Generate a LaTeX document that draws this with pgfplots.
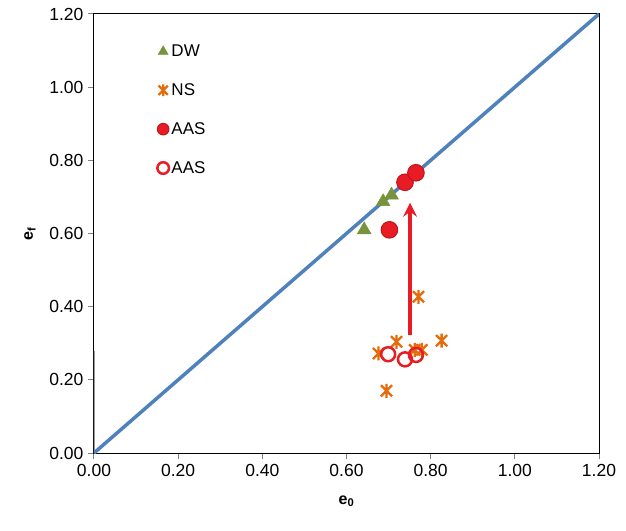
\documentclass[border=0pt]{standalone}
\usepackage{fontspec}
\setmainfont{Liberation Sans}
\usepackage{pgfplots}
\pgfplotsset{compat=1.18}
\usetikzlibrary{arrows.meta}
\definecolor{dwgreen}{RGB}{119,147,60}
\definecolor{nsorange}{RGB}{228,108,10}
\definecolor{aasred}{RGB}{232,28,36}
\definecolor{aasdark}{RGB}{190,20,30}
\definecolor{lineblue}{RGB}{79,129,189}
\pgfdeclareplotmark{xstar}{%
  \pgfpathmoveto{\pgfqpoint{-0.8\pgfplotmarksize}{-0.8\pgfplotmarksize}}%
  \pgfpathlineto{\pgfqpoint{0.8\pgfplotmarksize}{0.8\pgfplotmarksize}}%
  \pgfpathmoveto{\pgfqpoint{-0.8\pgfplotmarksize}{0.8\pgfplotmarksize}}%
  \pgfpathlineto{\pgfqpoint{0.8\pgfplotmarksize}{-0.8\pgfplotmarksize}}%
  \pgfpathmoveto{\pgfqpoint{0pt}{-\pgfplotmarksize}}%
  \pgfpathlineto{\pgfqpoint{0pt}{\pgfplotmarksize}}%
  \pgfusepathqstroke}
\begin{document}
\begin{tikzpicture}
\begin{axis}[
  scale only axis,
  width=505pt, height=439pt,
  xmin=0, xmax=1.2, ymin=0, ymax=1.2,
  xtick={0,0.2,...,1.2}, ytick={0,0.2,...,1.2},
  axis line style={black, line width=1pt},
  tick align=outside,
  xtick pos=bottom, ytick pos=left,
  major tick length=6pt,
  tick style={gray, line width=1pt},
  /pgf/number format/assume math mode=true,
  xticklabel style={/pgf/number format/.cd, fixed, fixed zerofill, precision=2, /tikz/.cd, font=\fontsize{17.5}{20}\selectfont, yshift=-2pt},
  yticklabel style={/pgf/number format/.cd, fixed, fixed zerofill, precision=2, /tikz/.cd, font=\fontsize{17.5}{20}\selectfont, xshift=-1pt},
  xlabel={\textbf{e\textsubscript{0}}},
  ylabel={\textbf{e\textsubscript{f}}},
  xlabel style={font=\fontsize{16}{19}\selectfont, yshift=-12pt},
  ylabel style={font=\fontsize{16}{19}\selectfont, yshift=7pt},
  legend style={at={(axis cs:0.143,1.127)}, anchor=north west, draw=none, fill=none,
    font=\fontsize{17}{20}\selectfont, row sep=21.5pt,
    nodes={inner xsep=2.5pt}},
  legend cell align=left,
  legend image code/.code={\draw[#1, mark size=5.8pt] plot coordinates {(0.1cm,0cm)};},
]
\addplot[only marks, mark=triangle*, mark size=8pt, color=dwgreen, mark options={fill=dwgreen, draw=dwgreen}]
  coordinates {(0.642,0.610) (0.687,0.687) (0.707,0.705)};
\addlegendentry{DW}
\addplot[only marks, mark=xstar, mark size=7pt, color=nsorange, mark options={line width=2.3pt}]
  coordinates {(0.771,0.427) (0.826,0.307) (0.719,0.304) (0.676,0.272) (0.779,0.282) (0.695,0.170) (0.762,0.282)};
\addlegendentry{NS}
\addplot[only marks, mark=*, mark size=8.3pt, mark options={fill=aasred, draw=aasdark, line width=1pt}]
  coordinates {(0.702,0.610) (0.739,0.740) (0.765,0.766)};
\addlegendentry{AAS}
\addplot[only marks, mark=o, mark size=7pt, mark options={draw=aasred, line width=2.5pt}]
  coordinates {(0.699,0.270) (0.739,0.256) (0.765,0.268)};
\addlegendentry{AAS}
\addplot[forget plot, aasred, line width=3.2pt, -{Stealth[length=14pt,width=14pt,inset=5pt]}]
  coordinates {(0.751,0.323) (0.751,0.684)};
\addplot[forget plot, gray!80, line width=2.5pt] coordinates {(0,0) (0,0.28)};
\addplot[forget plot, lineblue, line width=3.5pt] coordinates {(0,0) (1.2,1.2)};
\end{axis}
\path[use as bounding box] (current axis.south west) ++(-94pt,-77pt) rectangle ++(626pt,530pt);
\end{tikzpicture}
\end{document}
